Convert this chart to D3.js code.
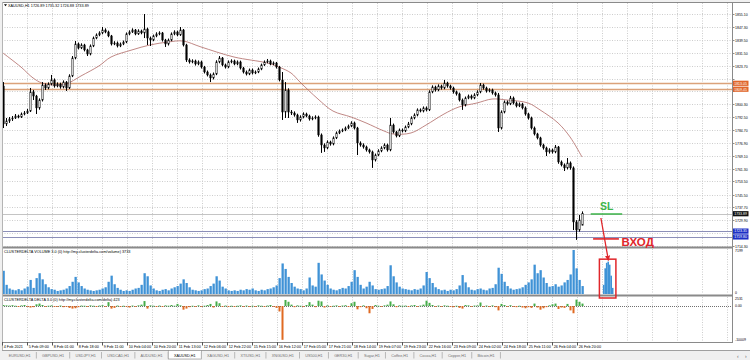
<!doctype html>
<html>
<head>
<meta charset="utf-8">
<script src="https://d3js.org/d3.v7.min.js"></script>
<style>
  body { margin: 0; background: #f0f0f0; }
  svg { display: block; font-family: "Liberation Sans", Arial, sans-serif; }
</style>
</head>
<body>
<svg width="750" height="360"></svg>
<script>
// XAUUSD H1, 4 Feb - 26 Feb 2021 (one candle read every ~3 px of the picture)
var opens = [
  1811.4,1788.4,1790.2,1791.4,1792.0,1793.2,1792.6,1794.4,1795.0,1796.2,
  1807.8,1805.3,1798.1,1802.9,1812.0,1810.2,1812.6,1815.1,1811.4,1812.6,
  1810.8,1813.8,1810.2,1817.5,1828.4,1836.9,1834.5,1836.3,1833.3,1830.8,
  1835.7,1840.5,1842.4,1843.6,1845.4,1844.2,1841.8,1836.9,1837.5,1835.7,
  1836.9,1838.1,1843.0,1844.2,1845.4,1843.0,1844.8,1843.6,1846.0,1840.5,
  1839.3,1841.8,1843.0,1843.6,1839.3,1836.9,1839.3,1843.0,1844.2,1842.4,
  1845.4,1836.3,1827.2,1826.0,1826.6,1824.8,1826.0,1822.9,1819.9,1818.1,
  1816.3,1818.7,1826.0,1828.4,1824.2,1822.9,1826.0,1826.6,1824.8,1826.0,
  1822.3,1819.9,1818.7,1821.1,1819.3,1819.9,1821.7,1824.2,1826.0,1826.6,
  1824.8,1825.4,1822.9,1815.1,1795.6,1809.0,1795.6,1795.0,1793.8,1790.8,
  1792.6,1794.4,1793.2,1791.4,1792.0,1792.6,1781.7,1775.6,1773.8,1777.4,
  1776.2,1779.9,1782.9,1784.1,1784.7,1785.9,1787.1,1789.0,1785.9,1776.8,
  1775.6,1774.4,1772.6,1771.4,1766.5,1769.5,1772.0,1773.8,1775.6,1772.6,
  1787.7,1783.5,1781.1,1784.7,1784.1,1786.5,1788.4,1792.0,1793.8,1796.9,
  1796.2,1798.1,1796.9,1807.8,1810.8,1809.0,1811.4,1810.2,1813.2,1811.4,
  1810.2,1807.8,1806.6,1802.9,1799.9,1804.1,1805.3,1804.1,1806.0,1807.8,
  1812.0,1810.2,1808.4,1809.0,1807.2,1806.0,1785.9,1795.6,1801.7,1800.5,
  1804.1,1801.1,1799.3,1800.5,1798.1,1794.4,1792.0,1785.9,1782.3,1779.9,
  1775.6,1773.8,1771.4,1772.6,1771.4,1774.4,1765.3,1763.5,1761.7,1764.7,
  1761.7,1728.9,1724.0,1726.9];
var highs = [
  1813.8,1792.0,1792.6,1793.2,1794.4,1794.0,1795.3,1796.2,1797.5,1810.2,
  1809.0,1806.0,1803.9,1813.8,1813.0,1813.6,1818.1,1816.0,1813.6,1813.4,
  1814.8,1814.4,1818.5,1829.6,1838.7,1837.8,1837.3,1837.0,1834.0,1836.6,
  1841.4,1843.3,1844.6,1847.2,1846.4,1845.0,1842.4,1838.6,1838.4,1837.8,
  1839.0,1843.9,1845.2,1846.4,1846.0,1845.8,1845.6,1855.1,1846.8,1841.4,
  1842.6,1844.0,1844.6,1844.2,1840.0,1840.2,1843.9,1845.2,1845.0,1847.2,
  1846.0,1837.0,1828.2,1827.6,1827.4,1826.9,1826.8,1823.6,1820.8,1819.0,
  1819.6,1827.0,1829.6,1829.0,1825.0,1826.9,1827.6,1827.4,1826.9,1826.8,
  1823.0,1820.8,1822.0,1822.0,1820.8,1822.6,1825.0,1826.9,1827.8,1827.4,
  1826.3,1826.0,1823.6,1819.9,1813.8,1810.0,1796.8,1796.0,1794.6,1793.6,
  1795.4,1795.2,1794.0,1793.0,1793.6,1793.4,1782.6,1776.6,1778.4,1778.2,
  1780.8,1783.8,1785.0,1785.6,1786.8,1788.0,1790.0,1789.8,1786.6,1777.8,
  1776.6,1775.2,1773.4,1772.2,1770.4,1773.0,1774.8,1776.6,1776.4,1792.0,
  1788.6,1784.2,1785.6,1785.6,1787.4,1789.6,1793.0,1794.8,1797.8,1797.8,
  1799.0,1799.0,1808.8,1811.8,1811.6,1812.4,1812.2,1815.1,1814.0,1812.2,
  1811.0,1808.6,1807.4,1803.8,1805.0,1806.2,1806.2,1807.0,1808.8,1813.2,
  1812.8,1811.0,1810.0,1809.8,1808.0,1807.2,1796.6,1802.6,1802.6,1805.4,
  1805.0,1802.0,1801.4,1801.2,1799.0,1795.2,1792.8,1786.8,1783.0,1780.6,
  1776.4,1774.6,1773.6,1773.4,1775.6,1775.0,1766.2,1764.4,1767.7,1765.6,
  1762.6,1730.0,1733.1,1735.3];
var lows = [
  1785.9,1787.1,1789.0,1790.2,1791.4,1791.8,1792.0,1793.6,1794.4,1795.6,
  1802.9,1794.4,1797.0,1802.0,1809.0,1809.4,1811.8,1810.4,1810.6,1809.8,
  1810.0,1808.4,1809.6,1816.8,1827.6,1833.6,1833.8,1832.4,1829.6,1830.0,
  1835.0,1839.8,1841.6,1842.8,1843.4,1841.0,1836.0,1836.2,1834.8,1835.0,
  1836.2,1837.4,1842.2,1843.6,1842.2,1842.4,1842.8,1840.5,1836.3,1835.7,
  1838.6,1841.0,1842.2,1838.4,1835.1,1836.0,1838.6,1842.2,1841.6,1841.8,
  1835.4,1826.0,1825.0,1825.2,1823.8,1824.0,1822.0,1819.0,1817.2,1813.8,
  1815.4,1818.0,1825.2,1823.4,1822.0,1822.2,1825.2,1824.0,1824.0,1821.4,
  1819.0,1817.8,1818.0,1818.4,1818.6,1819.2,1821.0,1823.6,1825.2,1824.0,
  1824.0,1822.0,1814.2,1790.8,1792.0,1792.0,1793.8,1792.8,1789.0,1789.8,
  1791.8,1792.4,1790.4,1790.6,1791.2,1780.6,1770.8,1771.4,1773.0,1775.2,
  1775.4,1779.2,1782.2,1783.4,1784.0,1785.2,1786.4,1785.0,1769.5,1774.6,
  1773.4,1771.6,1770.4,1761.7,1765.6,1768.8,1771.2,1773.0,1771.6,1771.8,
  1782.6,1780.2,1780.4,1783.2,1783.4,1785.8,1787.6,1791.2,1793.0,1795.4,
  1795.4,1796.0,1796.2,1807.0,1808.0,1808.2,1809.2,1809.4,1810.4,1809.2,
  1806.8,1805.6,1802.0,1796.9,1799.0,1803.4,1803.2,1803.4,1805.2,1807.0,
  1809.2,1807.4,1807.6,1806.2,1805.0,1783.5,1785.0,1794.8,1799.6,1799.8,
  1800.2,1798.4,1798.6,1797.2,1793.4,1791.0,1785.0,1781.4,1779.0,1774.6,
  1772.8,1768.9,1770.4,1770.4,1770.6,1764.2,1762.6,1759.8,1760.8,1760.6,
  1724.0,1718.0,1723.0,1726.9];
var closes = [
  1788.4,1790.2,1791.4,1792.0,1793.2,1792.6,1794.4,1795.0,1796.2,1807.8,
  1805.3,1798.1,1802.9,1812.0,1810.2,1812.6,1815.1,1811.4,1812.6,1810.8,
  1813.8,1810.2,1817.5,1828.4,1836.9,1834.5,1836.3,1833.3,1830.8,1835.7,
  1840.5,1842.4,1843.6,1845.4,1844.2,1841.8,1836.9,1837.5,1835.7,1836.9,
  1838.1,1843.0,1844.2,1845.4,1843.0,1844.8,1843.6,1846.0,1840.5,1839.3,
  1841.8,1843.0,1843.6,1839.3,1836.9,1839.3,1843.0,1844.2,1842.4,1845.4,
  1836.3,1827.2,1826.0,1826.6,1824.8,1826.0,1822.9,1819.9,1818.1,1816.3,
  1818.7,1826.0,1828.4,1824.2,1822.9,1826.0,1826.6,1824.8,1826.0,1822.3,
  1819.9,1818.7,1821.1,1819.3,1819.9,1821.7,1824.2,1826.0,1826.6,1824.8,
  1825.4,1822.9,1815.1,1795.6,1809.0,1795.6,1795.0,1793.8,1790.8,1792.6,
  1794.4,1793.2,1791.4,1792.0,1792.6,1781.7,1775.6,1773.8,1777.4,1776.2,
  1779.9,1782.9,1784.1,1784.7,1785.9,1787.1,1789.0,1785.9,1776.8,1775.6,
  1774.4,1772.6,1771.4,1766.5,1769.5,1772.0,1773.8,1775.6,1772.6,1787.7,
  1783.5,1781.1,1784.7,1784.1,1786.5,1788.4,1792.0,1793.8,1796.9,1796.2,
  1798.1,1796.9,1807.8,1810.8,1809.0,1811.4,1810.2,1813.2,1811.4,1810.2,
  1807.8,1806.6,1802.9,1799.9,1804.1,1805.3,1804.1,1806.0,1807.8,1812.0,
  1810.2,1808.4,1809.0,1807.2,1806.0,1785.9,1795.6,1801.7,1800.5,1804.1,
  1801.1,1799.3,1800.5,1798.1,1794.4,1792.0,1785.9,1782.3,1779.9,1775.6,
  1773.8,1771.4,1772.6,1771.4,1774.4,1765.3,1763.5,1761.7,1764.7,1761.7,
  1728.9,1724.0,1730.1,1733.9];
var volumes = [
  3800,1500,900,700,600,800,600,900,1200,2300,
  1000,2600,3400,2400,1600,1100,800,700,500,600,
  700,900,1300,2000,2800,1900,1300,900,700,600,
  500,600,700,900,1100,2000,3000,1600,1000,700,
  500,600,500,700,900,1000,1500,3400,2900,1400,
  900,600,500,700,800,600,900,1100,1300,1700,
  2400,1800,1100,700,600,500,600,800,900,1300,
  1700,2900,2200,1200,900,600,500,600,500,700,
  600,800,700,900,600,500,700,600,800,900,
  1100,1400,2600,5000,4100,2800,1800,1200,900,800,
  600,900,2700,1400,1200,5100,3200,2200,1500,900,
  700,600,800,1000,900,1300,2000,3900,2800,1500,
  900,1200,2000,1400,800,700,800,900,1300,4700,
  2900,1900,1200,900,800,700,600,800,700,900,
  1400,3600,2600,1800,1100,800,600,700,500,700,
  600,800,1400,3100,1900,1100,700,600,800,900,
  700,600,900,1000,1600,4300,3300,2000,1300,900,
  700,800,900,1100,1500,1900,2400,4800,3400,3900,
  2700,1800,1200,1300,1600,1200,1400,1900,2300,3200,
  7199,4200,2300,1300];
var deltas = [
  300,200,150,250,100,-100,200,300,-200,-400,
  -300,500,700,300,-150,100,200,-100,-200,150,
  -300,-200,-500,-700,-600,-300,150,100,-150,200,
  100,-100,150,250,-150,1100,-700,-500,150,-100,
  100,-200,-400,150,-100,200,400,1400,-700,200,
  100,-100,150,-150,200,100,300,100,600,200,
  -1000,-700,-300,100,-150,200,-100,100,300,600,
  -400,1300,800,-200,150,-100,100,-150,100,200,
  -100,150,-200,100,-150,200,100,-100,150,300,
  -200,-500,-1500,-9400,1700,1200,400,-300,200,100,
  -150,300,1100,400,-300,1500,1300,-400,200,-150,
  100,200,-100,150,250,-200,800,1200,-900,-300,
  200,-600,-2000,-800,300,100,-100,200,400,1300,
  500,-300,200,100,150,-100,200,300,-200,150,
  400,1500,900,300,-200,150,-100,200,100,-150,
  -300,100,-500,-700,300,200,-100,150,200,1000,
  -200,150,-100,200,-300,-1200,600,300,-200,250,
  -150,-300,100,-400,-600,-300,-500,700,-400,-1000,
  -600,-300,200,500,700,-800,-400,-500,600,-1200,
  -2000,1800,1200,700];

// moving average at some bars
var maBars = [0,6,10,13,17,21,26,32,36,43,49,55,60,66,77,88,92,96,99,105,
  110,116,121,127,130,136,141,147,152,158,163,168,175,179,185,189,193];
var maValues = [1831.4,1822.9,1816.3,1813.2,1812.0,1812.6,1817.5,1823.6,1829.0,1833.3,
  1836.3,1838.1,1838.7,1835.1,1829.0,1825.4,1822.9,1819.3,1813.8,1803.5,
  1796.2,1792.6,1789.0,1784.1,1782.3,1782.9,1787.7,1794.4,1798.7,1801.1,
  1803.5,1802.9,1801.1,1796.9,1789.0,1780.5,1768.3];

var priceTicks = [1855.10,1847.30,1839.50,1831.50,1823.70,1815.90,1808.10,1800.30,1792.50,
  1784.70,1776.90,1769.10,1761.30,1753.50,1745.50,1737.70,1729.90,1722.10,1714.30];
var timeLabels = ["4 Feb 2021","5 Feb 09:00","8 Feb 01:00","8 Feb 18:00","9 Feb 11:00",
  "10 Feb 04:00","10 Feb 20:00","11 Feb 13:00","12 Feb 06:00","12 Feb 22:00","15 Feb 15:00",
  "16 Feb 12:00","17 Feb 05:00","17 Feb 21:00","18 Feb 14:00","19 Feb 07:00","19 Feb 23:00",
  "22 Feb 16:00","23 Feb 09:00","24 Feb 02:00","24 Feb 18:00","25 Feb 11:00","26 Feb 04:00",
  "26 Feb 20:00"];
var orangeLevels = [1813.05, 1809.45];
var blueLevels = [1723.35, 1719.80];
var bidPrice = 1733.89;
var volAxis = [7199, 0];
var deltaAxis = [2531, 0, -10009];
var deltaAxisText = ["2531", "0.00", "-10009"];
var tabs = ["EURUSD,H1","GBPUSD,H1","USDJPY,H1","USDCAD,H1","AUDUSD,H1","XAUUSD,H1",
  "XAGUSD,H1","XTIUSD,H1","XNGUSD,H1","US500,H1","GER30,H1","Sugar,H1","Coffee,H1",
  "Cocoa,H1","Copper,H1","Bitcoin,H1"];
var activeTab = 5;
// hand drawn spike inside the red box
var boxBars = [200.2, 200.7, 201.2, 201.7, 202.2, 202.7, 203.2];
var boxVolumes = [1500, 4200, 5100, 5300, 4800, 3000, 1000];

var svg = d3.select("svg");
var N = closes.length;
var left = 2, right = 732;
var panes = [{top: 3, bot: 246}, {top: 249, bot: 294}, {top: 297, bot: 342}];

var x = d3.scaleLinear().domain([0, N - 1]).range([3, 3 + 3 * (N - 1)]);
var y = d3.scaleLinear().domain([1714.3, 1855.1]).range([246, 14]);
var yv = d3.scaleLinear().domain([0, 7199]).range([294, 250]);
var yd = d3.scaleLinear().domain([-10009, 2531]).range([342, 297]);
var xt = d3.scalePoint().domain(timeLabels).range([2, 577]);
var fmt = d3.format(".2f");
var px = function(v) { return Math.round(v) + 0.5; };

svg.append("rect").attr("x", 2).attr("y", 2).attr("width", 748).attr("height", 348).attr("fill", "#fff");

// grid
var gridX = d3.range(30).map(function(k) { return xt.range()[0] + k * xt.step(); });
var grid = svg.append("g").attr("stroke", "#cdcdcd").attr("stroke-dasharray", "1,1.5").attr("stroke-width", 1);
panes.forEach(function(p) {
  grid.selectAll(null).data(gridX).enter().append("line")
    .attr("x1", px).attr("x2", px).attr("y1", p.top).attr("y2", p.bot);
});
grid.selectAll(null).data(priceTicks).enter().append("line")
  .attr("x1", left).attr("x2", right)
  .attr("y1", function(d) { return px(y(d)); }).attr("y2", function(d) { return px(y(d)); });

// delta zero line
svg.append("line").attr("x1", left).attr("x2", right)
  .attr("y1", px(yd(0))).attr("y2", px(yd(0)))
  .attr("stroke", "#707070").attr("stroke-dasharray", "1,1");

// level lines
svg.selectAll(".ol").data(orangeLevels).enter().append("line")
  .attr("x1", left).attr("x2", right)
  .attr("y1", function(d) { return px(y(d)); }).attr("y2", function(d) { return px(y(d)); })
  .attr("stroke", "#dba27a").attr("stroke-width", 1.3);
svg.selectAll(".bl").data(blueLevels).enter().append("line")
  .attr("x1", left).attr("x2", right)
  .attr("y1", function(d) { return px(y(d)); }).attr("y2", function(d) { return px(y(d)); })
  .attr("stroke", "#8c8fb8").attr("stroke-width", 1);
svg.append("line").attr("x1", left).attr("x2", right)
  .attr("y1", px(y(bidPrice))).attr("y2", px(y(bidPrice)))
  .attr("stroke", "#c4c4c4");

// moving average
svg.append("path")
  .datum(maBars.map(function(b, i) { return [b, maValues[i]]; }))
  .attr("fill", "none").attr("stroke", "#b06a66").attr("stroke-width", 0.8)
  .attr("d", d3.line().x(function(d) { return x(d[0]); }).y(function(d) { return y(d[1]); })
    .curve(d3.curveCatmullRom));

// candles
var cg = svg.append("g");
d3.range(N).forEach(function(i) {
  var cx = Math.round(x(i));
  cg.append("line").attr("x1", cx + 0.5).attr("x2", cx + 0.5)
    .attr("y1", y(highs[i])).attr("y2", y(lows[i]))
    .attr("stroke", "#000").attr("stroke-width", 1);
  var up = closes[i] >= opens[i];
  var top = y(Math.max(opens[i], closes[i])), bot = y(Math.min(opens[i], closes[i]));
  cg.append("rect").attr("x", cx - 0.2).attr("y", top)
    .attr("width", 1.4).attr("height", Math.max(0.8, bot - top))
    .attr("fill", up ? "#e8e8e8" : "#000").attr("stroke", "#000").attr("stroke-width", 0.5);
});

// volume histogram
svg.append("g").selectAll("rect").data(volumes).enter().append("rect")
  .attr("x", function(d, i) { return Math.round(x(i)) - 0.5; })
  .attr("y", function(d) { return yv(d); })
  .attr("width", 2.3)
  .attr("height", function(d) { return yv(0) - yv(d); })
  .attr("fill", "#3f92d6");
svg.append("g").selectAll("rect").data(boxVolumes).enter().append("rect")
  .attr("x", function(d, i) { return x(boxBars[i]) - 0.7; })
  .attr("y", function(d) { return yv(d); })
  .attr("width", 1.6)
  .attr("height", function(d) { return yv(0) - yv(d); })
  .attr("fill", "#3f92d6");

// delta histogram
svg.append("g").selectAll("rect").data(deltas).enter().append("rect")
  .attr("x", function(d, i) { return Math.round(x(i)) - 0.5; })
  .attr("y", function(d) { return Math.min(yd(0), yd(d)); })
  .attr("width", 2)
  .attr("height", function(d) { return Math.max(0.8, Math.abs(yd(d) - yd(0))); })
  .attr("fill", function(d) { return d >= 0 ? "#46ad4a" : "#e06a22"; });

// pane frames
var frame = svg.append("g").attr("stroke", "#8a8a8a");
frame.append("line").attr("x1", 2).attr("x2", 750).attr("y1", 2.5).attr("y2", 2.5);
frame.append("line").attr("x1", left).attr("x2", right).attr("y1", 247.5).attr("y2", 247.5).attr("stroke-width", 2);
frame.append("line").attr("x1", left).attr("x2", right).attr("y1", 295.5).attr("y2", 295.5).attr("stroke-width", 2);
frame.append("line").attr("x1", left).attr("x2", right).attr("y1", 342.5).attr("y2", 342.5);
frame.append("line").attr("x1", right + 0.5).attr("x2", right + 0.5).attr("y1", 2).attr("y2", 343);
frame.append("line").attr("x1", 2.5).attr("x2", 2.5).attr("y1", 2).attr("y2", 350).attr("stroke", "#b4b4b4");

// header and pane titles
svg.append("path").attr("d", "M4,4.2L7,4.2L5.5,6.2Z").attr("fill", "#000");
var small = { "font-size": "3.8px", "fill": "#000" };
function txt(g, s, tx, ty, attrs) {
  var t = g.append("text").attr("x", tx).attr("y", ty).text(s);
  Object.keys(small).forEach(function(k) { t.attr(k, small[k]); });
  if (attrs) Object.keys(attrs).forEach(function(k) { t.attr(k, attrs[k]); });
  return t;
}
txt(svg, "XAUUSD,H1  1726.89 1735.32 1726.88 1733.89", 8, 6.6);
txt(svg, "CLUSTERDELTA VOLUME 3.0 (0) http://my.clusterdelta.com/volume) 3733", 4, 252.6);
txt(svg, "CLUSTERDELTA DELTA 3.0 (0) http://my.clusterdelta.com/delta) 423", 4, 300.6);

// right axis
var ax = svg.append("g");
var tagPrices = orangeLevels.concat(blueLevels, [bidPrice]);
priceTicks.forEach(function(p) {
  var yy = px(y(p));
  ax.append("line").attr("x1", right).attr("x2", right + 2.5).attr("y1", yy).attr("y2", yy).attr("stroke", "#8a8a8a");
  // a tick label that sits under a price tag is covered by it, as in the terminal
  var covered = tagPrices.some(function(t) { return Math.abs(y(t) - y(p)) < 5; });
  if (!covered) txt(ax, fmt(p), right + 3, yy + 1.3, { "font-size": "3.5px" });
});
function tag(price, fill) {
  var yy = y(price);
  ax.append("rect").attr("x", right + 1).attr("y", yy - 2.6).attr("width", 15.5).attr("height", 5.2).attr("fill", fill);
  txt(ax, fmt(price), right + 2.2, yy + 1.3, { "font-size": "3.5px", "fill": "#fff" });
}
orangeLevels.forEach(function(p) { tag(p, "#e0652a"); });
blueLevels.forEach(function(p) { tag(p, "#1c2fc6"); });
tag(bidPrice, "#111");
volAxis.forEach(function(v) {
  txt(ax, String(v), right + 3, Math.max(251, Math.min(292.5, yv(v))) + 1.3, { "font-size": "3.5px" });
});
deltaAxis.forEach(function(v, i) {
  txt(ax, deltaAxisText[i], right + 3, Math.max(299, Math.min(339.8, yd(v))) + 1.3, { "font-size": "3.5px" });
});

// time axis
timeLabels.forEach(function(t) {
  var xx = px(xt(t));
  svg.append("line").attr("x1", xx).attr("x2", xx).attr("y1", 342).attr("y2", 345.5).attr("stroke", "#555");
  txt(svg, t, xx + 1.2, 348.2);
});

// tabs
svg.append("line").attr("x1", 2).attr("x2", 750).attr("y1", 350.5).attr("y2", 350.5).attr("stroke", "#a0a0a0");
svg.append("rect").attr("x", 0).attr("y", 351).attr("width", 750).attr("height", 9).attr("fill", "#f0f0f0");
var tg = svg.append("g");
var tx = 3;
tabs.forEach(function(name, i) {
  var t = txt(tg, name, tx + 5.7, 357.4, { "fill": i === activeTab ? "#000" : "#707070" });
  var w = t.node().getComputedTextLength() + 11.4;
  if (i === activeTab) {
    tg.insert("rect", function() { return t.node(); })
      .attr("x", tx).attr("y", 350.5).attr("width", w).attr("height", 8.5)
      .attr("fill", "#fff").attr("stroke", "#8a8a8a").attr("stroke-width", 0.6);
  }
  tg.append("line").attr("x1", tx + w).attr("x2", tx + w).attr("y1", 352).attr("y2", 358.5)
    .attr("stroke", "#b8b8b8");
  tx += w;
});
txt(tg, "\u2039", 737, 357.6, { "font-size": "5px", "fill": "#606060" });
txt(tg, "\u203a", 745, 357.6, { "font-size": "5px", "fill": "#606060" });

// annotations (bar index / price / volume units)
var slLevel = 1733.7, entryLevel = 1718.6;
var an = svg.append("g");
an.append("line").attr("x1", x(195.9)).attr("x2", x(206.4)).attr("y1", y(slLevel)).attr("y2", y(slLevel))
  .attr("stroke", "#3db54a").attr("stroke-width", 1.6);
an.append("text").attr("x", x(199)).attr("y", y(1735.9)).text("SL")
  .attr("font-size", "10.5px").attr("font-weight", "bold").attr("fill", "#3db54a");
an.append("line").attr("x1", x(196.7)).attr("x2", x(205.3)).attr("y1", y(entryLevel)).attr("y2", y(entryLevel))
  .attr("stroke", "#e0262b").attr("stroke-width", 1.6);
an.append("text").attr("x", x(206.2)).attr("y", y(1714.2)).text("ВХОД")
  .attr("font-size", "11.5px").attr("font-weight", "bold").attr("fill", "#e0262b");
svg.append("defs").append("marker").attr("id", "ah")
  .attr("viewBox", "0 0 10 10").attr("refX", 9).attr("refY", 5)
  .attr("markerWidth", 4).attr("markerHeight", 4).attr("orient", "auto")
  .append("path").attr("d", "M0,0L10,5L0,10Z").attr("fill", "#e0262b");
an.append("line").attr("x1", x(199.3)).attr("y1", y(1731.3)).attr("x2", x(201.8)).attr("y2", yv(5500))
  .attr("stroke", "#e0262b").attr("stroke-width", 1.3).attr("marker-end", "url(#ah)");
an.append("rect").attr("x", x(198.8)).attr("y", yv(5700))
  .attr("width", x(204.3) - x(198.8)).attr("height", yv(0) + 4 - yv(5700))
  .attr("fill", "none").attr("stroke", "#e0262b").attr("stroke-width", 1.5);
</script>
</body>
</html>
